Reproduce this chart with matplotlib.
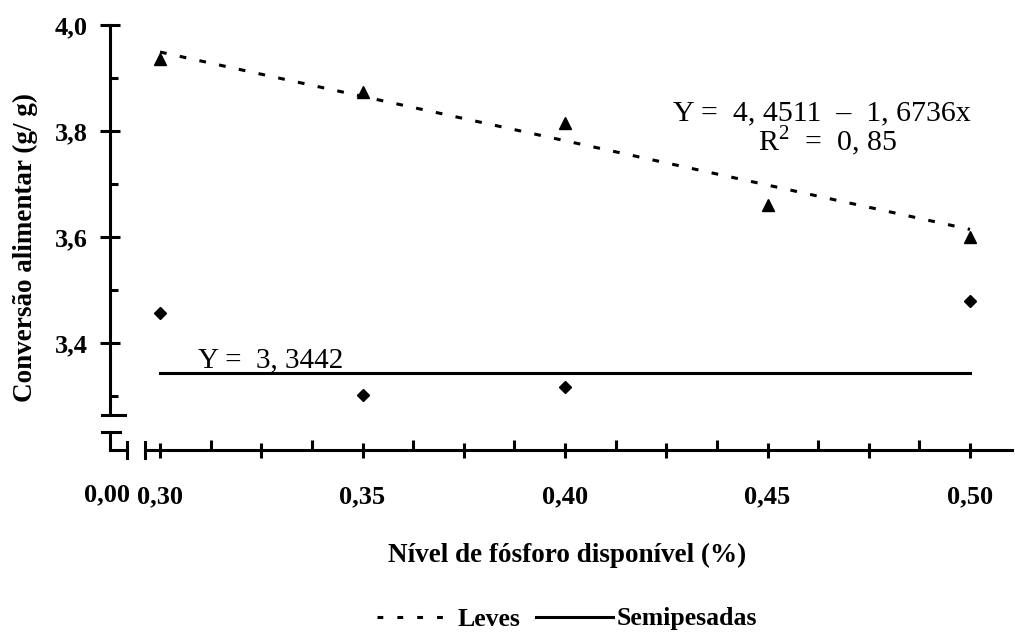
import matplotlib
matplotlib.use('Agg')
import matplotlib.pyplot as plt
import matplotlib.transforms as mtransforms
from matplotlib.lines import Line2D

plt.rcParams['font.family'] = 'Liberation Serif'
plt.rcParams['mathtext.fontset'] = 'custom'
plt.rcParams['mathtext.rm'] = 'Liberation Serif'

# conversão alimentar por nível de fósforo
nivel = [0.30, 0.35, 0.40, 0.45, 0.50]
leves = [3.935, 3.874, 3.815, 3.66, 3.60]
nivel_semi = [0.30, 0.35, 0.40, 0.50]
semipesadas = [3.457, 3.302, 3.317, 3.479]

# equações ajustadas
leves_a, leves_b = 4.4511, -1.6736
semi_media = 3.3442

x_ticks = [0.30, 0.325, 0.35, 0.375, 0.40, 0.425, 0.45, 0.475, 0.50]
x_labels = ['0,30', '', '0,35', '', '0,40', '', '0,45', '', '0,50']
x_minor = [0.3125, 0.3375, 0.3625, 0.3875, 0.4125, 0.4375, 0.4625, 0.4875]
y_ticks = [3.4, 3.6, 3.8, 4.0]
y_labels = ['3,4', '3,6', '3,8', '4,0']
y_minor = [3.3, 3.5, 3.7, 3.9]

W, H = 1015, 636
fig = plt.figure(figsize=(W / 100, H / 100), dpi=100)
ax = fig.add_axes([110 / W, (H - 450) / H, 902 / W, 430 / H])
ppx = 0.05 / 202.5   # escala x por pixel
ppy = 0.2 / 106      # escala y por pixel
ax.set_xlim(0.30 - 50 * ppx, 0.30 + 852 * ppx)
ax.set_ylim(4.0 - 425 * ppy, 4.0 + 5 * ppy)

lw = 2.2
xs = [nivel[0], nivel[-1]]
ax.plot(xs, [leves_a + leves_b * x for x in xs], color='k', lw=lw, dashes=(2.2, 4.4))
ax.plot(xs, [semi_media, semi_media], color='k', lw=lw)
ax.plot(nivel, leves, ls='none', marker='^', ms=9, color='k')
ax.plot(nivel_semi, semipesadas, ls='none', marker='D', ms=6.5, color='k')

ax.text(0.4635, 3.834, 'Y =  4, 4511  \u2013  1, 6736x', fontsize=21.5,
        ha='center', va='center')
ax.text(0.4647, 3.782, 'R$^{2}$  =  0, 85', fontsize=21.5, ha='center', va='center')
ax.text(0.3272, 3.368, 'Y =  3, 3442', fontsize=21, ha='center', va='center')

# eixos com quebra
for s in ['top', 'right']:
    ax.spines[s].set_visible(False)
ax.spines['left'].set_linewidth(lw)
ax.spines['bottom'].set_linewidth(lw)
ax.spines['left'].set_bounds(4.0 - 390 * ppy, 4.0)
ax.spines['bottom'].set_bounds(0.30 - 15 * ppx, ax.get_xlim()[1])

ax.set_xticks(x_ticks)
ax.set_xticklabels(x_labels)
ax.set_xticks(x_minor, minor=True)
ax.set_yticks(y_ticks)
ax.set_yticklabels(y_labels)
ax.set_yticks(y_minor, minor=True)
ax.tick_params(axis='x', which='major', direction='inout', length=10.8, width=lw,
               pad=20, labelsize=19)
ax.tick_params(axis='x', which='minor', direction='in', length=7.2, width=lw)
ax.tick_params(axis='y', which='major', direction='inout', length=14.4, width=lw,
               pad=9, labelsize=19)
ax.tick_params(axis='y', which='minor', direction='in', length=5.8, width=lw)
for t in ax.get_xticklabels() + ax.get_yticklabels():
    t.set_fontweight('bold')

# marcas da quebra, em pixels a partir do canto dos eixos
cx, cy = ax.transAxes.transform((0, 0))
brk = mtransforms.Affine2D().scale(1, -1).translate(cx, cy)
segs = [([-8, 15], [-35, -35]), ([-8, 10], [-18, -18]), ([0, 0], [-18, 0]),
        ([0, 17], [0, 0]), ([17, 17], [-8, 8]), ([35, 35], [-8, 8])]
for sx, sy in segs:
    ax.add_line(Line2D(sx, sy, color='k', lw=lw, transform=brk, clip_on=False))
ax.text(0, 0, '0,00', transform=brk + mtransforms.Affine2D().translate(-3, -45),
        ha='center', va='center', fontsize=19, fontweight='bold')

fig.text(25 / W, 1 - 248 / H, 'Conversão alimentar (g/ g)', rotation=90,
         ha='center', va='center', fontsize=19.5, fontweight='bold')
fig.text(567 / W, 1 - 555 / H, 'Nível de fósforo disponível (%)',
         ha='center', va='center', fontsize=19.5, fontweight='bold')

handles = [Line2D([], [], color='k', lw=lw, dashes=(1.9, 4.6)),
           Line2D([], [], color='k', lw=lw)]
fig.legend(handles, ['Leves', 'Semipesadas'], loc='center', ncol=2,
           bbox_to_anchor=(567 / W, 1 - 619 / H), frameon=False,
           handlelength=3.0, handletextpad=0.15, columnspacing=0.6,
           prop={'size': 18.5, 'weight': 'bold'})

fig.savefig('out.png', dpi=100, facecolor='white')
